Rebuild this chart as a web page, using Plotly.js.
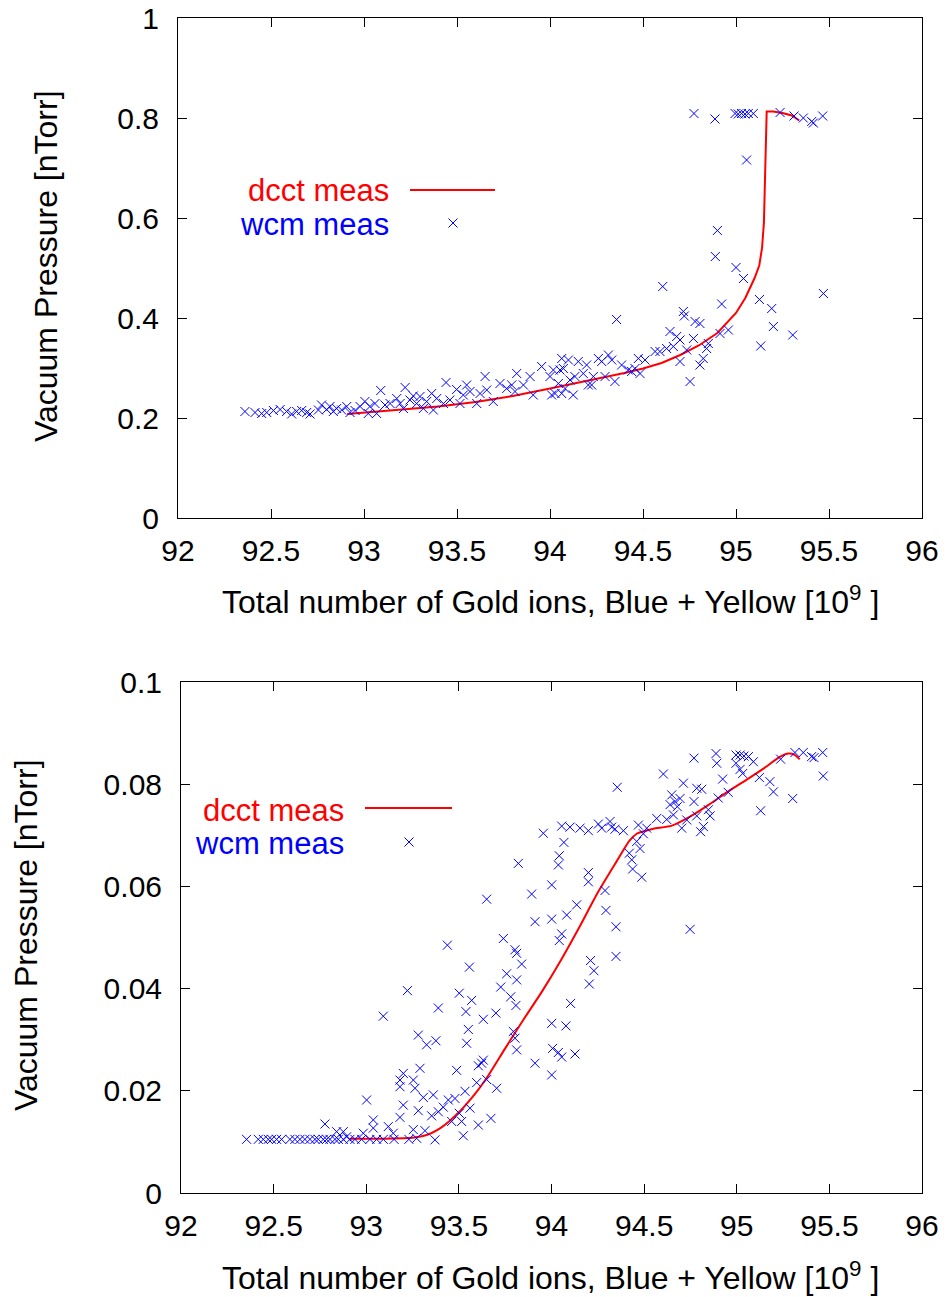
<!DOCTYPE html>
<html>
<head>
<meta charset="utf-8">
<script src="https://cdn.plot.ly/plotly-3.0.1.min.js"></script>
<style>html,body{margin:0;padding:0;background:#fff;}#chart{width:949px;height:1297px;}</style>
</head>
<body>
<div id="chart"></div>
<script>
// ---------------- DATA ----------------
const xTickVals = [92, 92.5, 93, 93.5, 94, 94.5, 95, 95.5, 96];
const xTitle = "Total number of Gold ions, Blue + Yellow [10<sup>9</sup> ]";
const yTitle = "Vacuum Pressure [nTorr]";
const seriesNames = ["dcct meas", "wcm meas"];

// Top panel: dcct (line)
const topDcctX = [92.91, 93.0, 93.2, 93.4, 93.6, 93.8, 94.0, 94.2, 94.4, 94.5, 94.6, 94.7, 94.8, 94.9, 95.0, 95.05, 95.1, 95.125, 95.14, 95.15, 95.155, 95.16, 95.165, 95.2, 95.25, 95.3, 95.34];
const topDcctY = [0.208, 0.211, 0.217, 0.223, 0.232, 0.244, 0.259, 0.274, 0.290, 0.299, 0.310, 0.326, 0.345, 0.370, 0.410, 0.440, 0.480, 0.505, 0.540, 0.590, 0.680, 0.760, 0.813, 0.813, 0.810, 0.805, 0.795];

// Top panel: wcm (x markers)
const topWcmX = [92.360, 92.414, 92.450, 92.477, 92.513, 92.549, 92.584, 92.611, 92.638, 92.665, 92.692, 92.710, 92.755, 92.772, 92.799, 92.817, 92.835, 92.853, 92.880, 92.907, 92.925, 92.952, 92.979, 93.005, 93.023, 93.032, 93.059, 93.068, 93.090, 93.113, 93.140, 93.176, 93.194, 93.212, 93.221, 93.247, 93.265, 93.283, 93.301, 93.319, 93.337, 93.364, 93.373, 93.391, 93.427, 93.441, 93.462, 93.498, 93.516, 93.534, 93.552, 93.570, 93.606, 93.624, 93.651, 93.660, 93.695, 93.731, 93.767, 93.794, 93.812, 93.821, 93.857, 93.893, 93.910,
  93.955, 94.000, 94.018, 94.045, 94.054, 94.063, 94.072, 94.099, 94.108, 94.125, 94.009, 94.027, 94.063, 94.081, 94.134, 94.152, 94.179, 94.197, 94.206, 94.224, 94.233, 94.260, 94.278, 94.296, 94.314, 94.332, 94.349, 94.358, 94.385, 94.421, 94.439, 94.457, 94.475, 94.484, 94.511, 94.565, 94.591, 94.606, 94.627, 94.645, 94.663, 94.681, 94.699, 94.699, 94.717, 94.722, 94.735, 94.753, 94.771, 94.780, 94.806, 94.806, 94.824, 94.842, 94.851, 94.914, 94.923, 94.959,
  94.774, 94.887, 94.995, 95.012, 95.030, 95.048, 95.066, 95.093, 95.237, 95.312, 95.362, 95.407, 95.416, 95.466, 95.057, 94.900, 94.889, 95.000, 95.040, 95.470, 95.126, 95.192, 95.201, 95.305, 95.133];
const topWcmY = [0.213, 0.211, 0.209, 0.211, 0.215, 0.217, 0.213, 0.208, 0.213, 0.215, 0.211, 0.208, 0.216, 0.226, 0.217, 0.223, 0.213, 0.219, 0.216, 0.223, 0.211, 0.215, 0.223, 0.233, 0.209, 0.223, 0.229, 0.209, 0.255, 0.226, 0.229, 0.239, 0.229, 0.219, 0.261, 0.236, 0.244, 0.229, 0.243, 0.219, 0.233, 0.249, 0.216, 0.239, 0.229, 0.271, 0.236, 0.257, 0.229, 0.246, 0.266, 0.253, 0.229, 0.249, 0.283, 0.256, 0.233, 0.269, 0.259, 0.266, 0.253, 0.289, 0.266, 0.283, 0.246,
  0.303, 0.283, 0.296, 0.269, 0.296, 0.319, 0.299, 0.316, 0.276, 0.246, 0.246, 0.249, 0.249, 0.259, 0.283, 0.313, 0.289, 0.306, 0.266, 0.266, 0.283, 0.319, 0.313, 0.283, 0.326, 0.316, 0.273, 0.397, 0.306, 0.296, 0.293, 0.299, 0.319, 0.289, 0.316, 0.333, 0.333, 0.463, 0.339, 0.373, 0.343, 0.363, 0.356, 0.313, 0.413, 0.404, 0.336, 0.273, 0.359, 0.393, 0.389, 0.306, 0.319, 0.339, 0.349, 0.369, 0.428, 0.376,
  0.809, 0.798, 0.809, 0.808, 0.809, 0.808, 0.809, 0.809, 0.811, 0.804, 0.800, 0.793, 0.790, 0.804, 0.716, 0.575, 0.523, 0.501, 0.479, 0.449, 0.437, 0.419, 0.383, 0.366, 0.344];

// Bottom panel: dcct (line)
const botDcctX = [92.91, 93.0, 93.1, 93.2, 93.25, 93.3, 93.35, 93.4, 93.45, 93.5, 93.55, 93.6, 93.65, 93.75, 93.85, 93.95, 94.05, 94.15, 94.25, 94.35, 94.42, 94.46, 94.5, 94.55, 94.65, 94.75, 94.85, 94.95, 95.05, 95.15, 95.23, 95.28, 95.31, 95.34];
const botDcctY = [0.0106, 0.0106, 0.0106, 0.0107, 0.0108, 0.0111, 0.0117, 0.0127, 0.0141, 0.0158, 0.0178, 0.0200, 0.0225, 0.0283, 0.0340, 0.0395, 0.0455, 0.0520, 0.0588, 0.0648, 0.0689, 0.0703, 0.0708, 0.0713, 0.0719, 0.0737, 0.0760, 0.0785, 0.0808, 0.0832, 0.0853, 0.0860, 0.0858, 0.0849];

// Bottom panel: wcm (x markers)
const botWcmX = [92.354, 92.417, 92.444, 92.471, 92.489, 92.516, 92.543, 92.588, 92.615, 92.642, 92.669, 92.696, 92.723, 92.741, 92.768, 92.786, 92.804, 92.831, 92.849, 92.876, 92.912, 92.939, 92.975, 93.020, 93.056, 93.092, 93.150, 93.230,
  92.777, 92.840, 92.876, 92.894, 92.984, 93.002, 93.038, 93.038,
  93.821, 94.037, 94.001, 93.893, 93.650, 93.911, 94.001, 94.082, 94.136, 94.055, 94.042, 93.740, 93.803, 93.812, 93.438, 93.557, 93.839, 93.758, 93.812, 93.726, 93.780, 93.808, 93.222, 93.092, 93.502, 93.569, 93.538, 93.700, 93.389, 93.632, 93.551, 93.281, 93.326, 93.376, 93.542, 93.794, 93.803, 93.812, 94.103, 94.001, 94.078, 94.006, 94.037, 94.055, 94.127, 93.911, 94.001, 93.632, 93.623, 93.605, 93.488, 93.290, 93.200, 93.182, 93.254, 93.263, 93.182, 93.596, 93.650, 93.704, 93.533, 93.308, 93.362, 93.200, 93.479, 93.443, 93.416, 93.389, 93.353, 93.281, 93.182, 93.560, 93.502, 93.515, 93.461, 93.605, 93.673, 93.524, 93.371, 93.317, 93.254, 93.119, 93.146, 93.272,
  93.956, 94.055, 94.100, 94.154, 94.199, 94.253, 94.271, 94.316, 94.325, 94.343, 94.388, 94.355, 94.067, 94.042, 94.199, 94.199, 94.289, 94.294, 94.348, 94.348, 94.211, 94.229, 94.204, 94.469, 94.514, 94.496, 94.460, 94.478, 94.420, 94.433, 94.438, 94.487, 94.568, 94.604, 94.622, 94.649, 94.667, 94.679, 94.694, 94.712, 94.640, 94.658, 94.703, 94.730, 94.748, 94.769, 94.769, 94.784, 94.811, 94.784, 94.820, 94.805, 94.847, 94.856, 94.888, 94.892, 94.900, 94.924, 94.954, 94.996, 95.018, 95.039, 95.063, 94.996, 95.018, 95.090, 95.032, 95.122, 95.129, 95.179, 95.198, 95.237, 95.302, 95.314, 95.359, 95.404, 95.417, 95.464, 95.467];
const botWcmY = [0.0105, 0.0105, 0.0105, 0.0105, 0.0105, 0.0105, 0.0105, 0.0105, 0.0105, 0.0105, 0.0105, 0.0105, 0.0105, 0.0105, 0.0105, 0.0105, 0.0105, 0.0105, 0.0105, 0.0105, 0.0105, 0.0105, 0.0105, 0.0105, 0.0105, 0.0105, 0.0105, 0.0105,
  0.0135, 0.0120, 0.0120, 0.0110, 0.0117, 0.0182, 0.0143, 0.0127,
  0.0645, 0.0642, 0.0603, 0.0585, 0.0575, 0.0531, 0.0536, 0.0544, 0.0564, 0.0507, 0.0494, 0.0498, 0.0476, 0.0469, 0.0485, 0.0442, 0.0448, 0.0429, 0.0417, 0.0403, 0.0384, 0.0367, 0.0396, 0.0346, 0.0391, 0.0377, 0.0355, 0.0352, 0.0362, 0.0340, 0.0320, 0.0309, 0.0290, 0.0298, 0.0293, 0.0316, 0.0303, 0.0280, 0.0371, 0.0332, 0.0327, 0.0283, 0.0275, 0.0266, 0.0272, 0.0254, 0.0231, 0.0260, 0.0254, 0.0249, 0.0240, 0.0244, 0.0234, 0.0221, 0.0221, 0.0205, 0.0208, 0.0216, 0.0222, 0.0205, 0.0199, 0.0187, 0.0192, 0.0172, 0.0185, 0.0182, 0.0168, 0.0159, 0.0151, 0.0161, 0.0148, 0.0166, 0.0156, 0.0140, 0.0140, 0.0133, 0.0146, 0.0112, 0.0104, 0.0122, 0.0124, 0.0130, 0.0117, 0.0107,
  0.0704, 0.0718, 0.0716, 0.0714, 0.0709, 0.0722, 0.0714, 0.0727, 0.0716, 0.0712, 0.0709, 0.0794, 0.0686, 0.0660, 0.0627, 0.0609, 0.0592, 0.0553, 0.0521, 0.0463, 0.0455, 0.0435, 0.0409, 0.0720, 0.0714, 0.0703, 0.0688, 0.0674, 0.0665, 0.0652, 0.0634, 0.0618, 0.0733, 0.0820, 0.0731, 0.0779, 0.0766, 0.0756, 0.0772, 0.0802, 0.0760, 0.0740, 0.0714, 0.0730, 0.0516, 0.0766, 0.0851, 0.0792, 0.0790, 0.0738, 0.0717, 0.0707, 0.0750, 0.0738, 0.0860, 0.0841, 0.0773, 0.0810, 0.0784, 0.0857, 0.0857, 0.0855, 0.0854, 0.0841, 0.0829, 0.0844, 0.0821, 0.0813, 0.0748, 0.0805, 0.0785, 0.0849, 0.0772, 0.0862, 0.0862, 0.0854, 0.0852, 0.0862, 0.0816];

// ---------------- STYLE / LAYOUT ----------------
const W = 949, H = 1297;
const px = v => v / W;
const py = v => 1 - v / H;
const FONT = "Liberation Sans, Arial, Helvetica, sans-serif";
const FS = 30;
const FS_TITLE = 32;
const FS_LEG = 31;
const RED = "#ff0000", BLUE = "#0000ff";

const lineStyle = {color: RED, width: 2};
const markerStyle = {symbol: "x-thin-open", size: 9, color: BLUE, line: {color: BLUE, width: 1}};

const traces = [
  {x: topDcctX, y: topDcctY, type: "scatter", mode: "lines", name: seriesNames[0], line: lineStyle, xaxis: "x", yaxis: "y"},
  {x: topWcmX, y: topWcmY, type: "scatter", mode: "markers", name: seriesNames[1], marker: markerStyle, xaxis: "x", yaxis: "y"},
  {x: botDcctX, y: botDcctY, type: "scatter", mode: "lines", name: seriesNames[0], line: Object.assign({shape: "spline", smoothing: 0.6}, lineStyle), xaxis: "x2", yaxis: "y2"},
  {x: botWcmX, y: botWcmY, type: "scatter", mode: "markers", name: seriesNames[1], marker: markerStyle, xaxis: "x2", yaxis: "y2"}
];

function axisBase() {
  return {
    showline: true, linecolor: "#000", linewidth: 1, mirror: "allticks",
    ticks: "inside", ticklen: 9, tickwidth: 1, tickcolor: "#000",
    showgrid: false, zeroline: false, fixedrange: true,
    tickfont: {family: FONT, size: FS, color: "#000"}
  };
}

const xTop = Object.assign(axisBase(), {domain: [px(178), px(922)], range: [92, 96], tickvals: xTickVals, ticktext: xTickVals.map(String), anchor: "y", ticklabelstandoff: 6});
const yTop = Object.assign(axisBase(), {domain: [py(518), py(18)], range: [0, 1], tick0: 0, dtick: 0.2, anchor: "x", ticklabelstandoff: 12});
const xBot = Object.assign(axisBase(), {domain: [px(181), px(922)], range: [92, 96], tickvals: xTickVals, ticktext: xTickVals.map(String), anchor: "y2", ticklabelstandoff: 6});
const yBot = Object.assign(axisBase(), {domain: [py(1193), py(682)], range: [0, 0.1], tick0: 0, dtick: 0.02, anchor: "x2", ticklabelstandoff: 12});

function ann(text, x, y, opts) {
  return Object.assign({text: text, x: px(x), y: py(y), xref: "paper", yref: "paper", showarrow: false,
    font: {family: FONT, size: FS_TITLE, color: "#000"}}, opts || {});
}

const annotations = [
  ann(xTitle, 550, 600, {xanchor: "center", yanchor: "middle"}),
  ann(xTitle, 550, 1276, {xanchor: "center", yanchor: "middle"}),
  ann(yTitle, 46, 266, {xanchor: "center", yanchor: "middle", textangle: -90}),
  ann(yTitle, 26, 935, {xanchor: "center", yanchor: "middle", textangle: -90}),
  ann(seriesNames[0], 391, 191, {xanchor: "right", yanchor: "middle", font: {family: FONT, size: FS_LEG, color: RED}}),
  ann(seriesNames[1], 391, 224, {xanchor: "right", yanchor: "middle", font: {family: FONT, size: FS_LEG, color: BLUE}}),
  ann(seriesNames[0], 346, 810, {xanchor: "right", yanchor: "middle", font: {family: FONT, size: FS_LEG, color: RED}}),
  ann(seriesNames[1], 346, 843, {xanchor: "right", yanchor: "middle", font: {family: FONT, size: FS_LEG, color: BLUE}})
];

function legendLine(x0, x1, y) {
  return {type: "line", xref: "paper", yref: "paper", x0: px(x0), x1: px(x1), y0: py(y), y1: py(y), line: {color: RED, width: 2}};
}
function legendX(cx, cy) {
  const h = 4.5;
  return [
    {type: "line", xref: "paper", yref: "paper", x0: px(cx - h), x1: px(cx + h), y0: py(cy - h), y1: py(cy + h), line: {color: BLUE, width: 1}},
    {type: "line", xref: "paper", yref: "paper", x0: px(cx - h), x1: px(cx + h), y0: py(cy + h), y1: py(cy - h), line: {color: BLUE, width: 1}}
  ];
}
const shapes = [legendLine(410, 495, 190), ...legendX(453, 223), legendLine(365, 452, 808), ...legendX(409, 842)];

const layout = {
  width: W, height: H,
  margin: {l: 0, r: 0, t: 0, b: 0},
  paper_bgcolor: "#fff", plot_bgcolor: "#fff",
  showlegend: false,
  font: {family: FONT, size: FS, color: "#000"},
  xaxis: xTop, yaxis: yTop, xaxis2: xBot, yaxis2: yBot,
  annotations: annotations, shapes: shapes
};

Plotly.newPlot("chart", traces, layout, {staticPlot: true, displayModeBar: false});
</script>
</body>
</html>
